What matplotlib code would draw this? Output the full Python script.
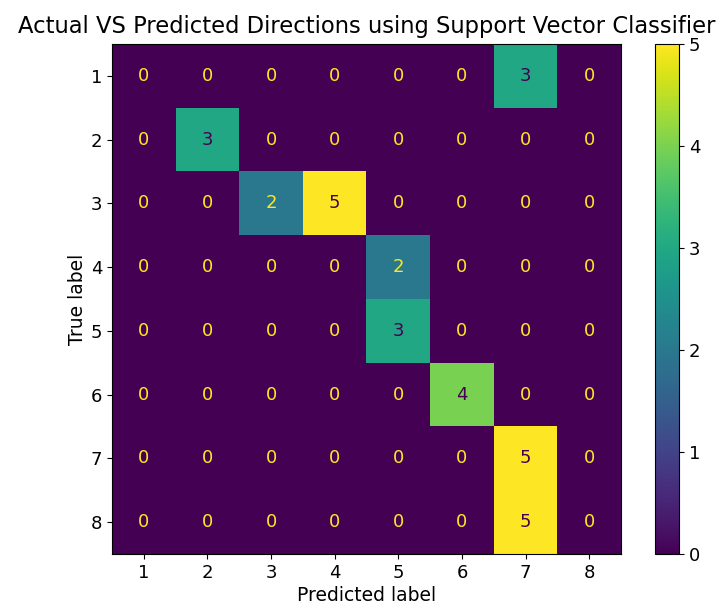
import numpy as np
import matplotlib
matplotlib.use("Agg")
import matplotlib.pyplot as plt

labels = ["1", "2", "3", "4", "5", "6", "7", "8"]
cm = np.array([
    [0, 0, 0, 0, 0, 0, 3, 0],
    [0, 3, 0, 0, 0, 0, 0, 0],
    [0, 0, 2, 5, 0, 0, 0, 0],
    [0, 0, 0, 0, 2, 0, 0, 0],
    [0, 0, 0, 0, 3, 0, 0, 0],
    [0, 0, 0, 0, 0, 4, 0, 0],
    [0, 0, 0, 0, 0, 0, 5, 0],
    [0, 0, 0, 0, 0, 0, 5, 0],
])

fig = plt.figure(figsize=(7.19, 6.12), dpi=100)
ax = fig.add_axes([112 / 719, 58 / 612, 509 / 719, 510 / 612])
cax = fig.add_axes([655 / 719, 58 / 612, 24 / 719, 510 / 612])

cmap = plt.get_cmap("viridis")
im = ax.imshow(cm, cmap=cmap, interpolation="nearest", aspect="auto")

# sklearn-style text colours
thresh = (cm.max() + cm.min()) / 2.0
for i in range(cm.shape[0]):
    for j in range(cm.shape[1]):
        color = cmap(1.0) if cm[i, j] < thresh else cmap(0.0)
        ax.text(j, i, str(cm[i, j]), ha="center", va="center",
                color=color, fontsize=13)

ax.set_xticks(range(len(labels)))
ax.set_xticklabels(labels)
ax.set_yticks(range(len(labels)))
ax.set_yticklabels(labels)
ax.tick_params(labelsize=13)
ax.set_xlabel("Predicted label", fontsize=13.5, labelpad=3)
ax.set_ylabel("True label", fontsize=13.5, labelpad=3)
ax.set_title("Actual VS Predicted Directions using Support Vector Classifier",
             fontsize=16.3, pad=8)

cb = fig.colorbar(im, cax=cax)
cb.ax.tick_params(labelsize=13)

fig.savefig("out.png", dpi=100)
